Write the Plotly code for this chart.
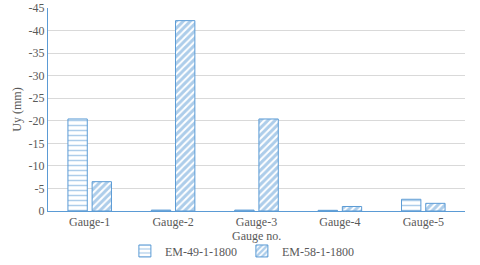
import plotly.graph_objects as go

gauges = ["Gauge-1", "Gauge-2", "Gauge-3", "Gauge-4", "Gauge-5"]
em49 = [-20.4, -0.2, -0.2, -0.15, -2.6]
em58 = [-6.5, -42.2, -20.4, -1.0, -1.7]
yticks = [0, -5, -10, -15, -20, -25, -30, -35, -40, -45]

blue = "#5B9BD5"
font = "Liberation Serif"
gray = "#595959"

fig = go.Figure()
fig.add_trace(go.Bar(
    x=gauges, y=em49, name="EM-49-1-1800",
    marker=dict(color="white", line=dict(color=blue, width=1),
                pattern=dict(shape="-", fgcolor=blue, bgcolor="white",
                             size=5, solidity=0.3, fillmode="overlay")),
))
fig.add_trace(go.Bar(
    x=gauges, y=em58, name="EM-58-1-1800",
    marker=dict(color="white", line=dict(color=blue, width=1),
                pattern=dict(shape="/", fgcolor=blue, bgcolor="white",
                             size=5, solidity=0.6, fillmode="overlay")),
))

fig.update_layout(
    width=480, height=265,
    margin=dict(l=48, r=15, t=8, b=54, autoexpand=False),
    paper_bgcolor="white", plot_bgcolor="white",
    font=dict(family=font, size=12, color=gray),
    barmode="group", bargap=0.42, bargroupgap=0.2,
    showlegend=True,
    legend=dict(orientation="h", x=0.465, xanchor="center",
                yref="container", y=0.053, yanchor="middle",
                font=dict(family=font, size=12, color=gray),
                itemwidth=30, tracegroupgap=0),
    annotations=[dict(text="Gauge no.", xref="paper", yref="paper", x=0.5, y=0,
                      yshift=-25, showarrow=False, xanchor="center", yanchor="middle",
                      font=dict(family=font, size=12, color=gray))],
)
fig.update_xaxes(
    showline=True, linecolor=blue, linewidth=1,
    showgrid=False, ticks="",
    tickfont=dict(family=font, size=12, color=gray),
)
fig.update_yaxes(
    range=[0, -45], tickvals=yticks, ticktext=[str(v) for v in yticks],
    showline=True, linecolor=blue, linewidth=1,
    showgrid=True, gridcolor="#D9D9D9", gridwidth=1, zeroline=False,
    title=dict(text="Uy (mm)", font=dict(family=font, size=12, color=gray), standoff=4),
    tickfont=dict(family=font, size=12, color=gray),
)

fig.write_html("out.html", config={"displayModeBar": False},
               post_script="document.body.style.margin='0';document.body.style.padding='0';")
